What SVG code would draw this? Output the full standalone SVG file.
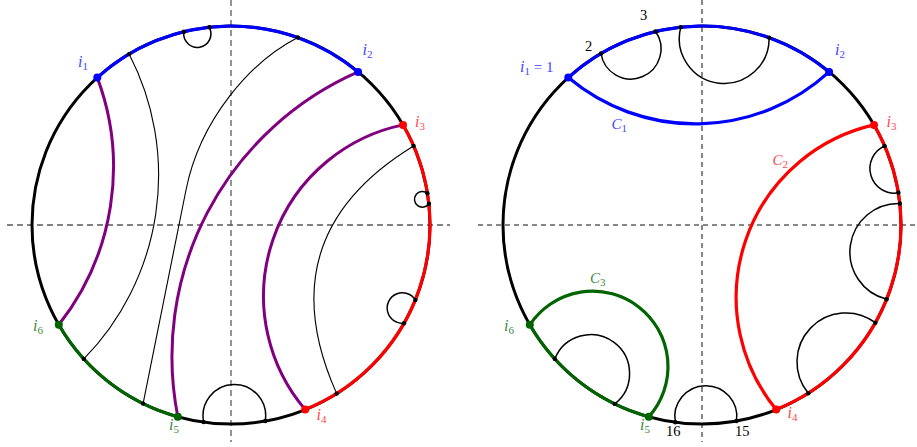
<svg xmlns="http://www.w3.org/2000/svg" width="917" height="447" viewBox="0 0 917 447">
<style>
.axL{stroke:#5a5a5a;stroke-width:1.3;stroke-dasharray:6,4;fill:none}
.axR{stroke:#111;stroke-width:1;stroke-dasharray:5,4;fill:none}
.rim{stroke:#000;stroke-width:3;fill:none}
.blue{stroke:#0000ff;stroke-width:3.2;fill:none}
.red{stroke:#ff0000;stroke-width:3.2;fill:none}
.green{stroke:#006400;stroke-width:3.2;fill:none}
.pur{stroke:#800080;stroke-width:3;fill:none}
.thin{stroke:#000;stroke-width:1.1;fill:none}
.loop{stroke:#000;stroke-width:1.5;fill:none}
.dot{fill:#000}
.lab{font-family:"Liberation Serif",serif;font-style:italic;font-size:16px}
.cal{font-family:"Liberation Serif",serif;font-style:italic;font-size:15px}
.sub{font-style:normal;font-size:11px}
.eq{font-style:normal;font-size:15px}
.num{font-family:"Liberation Serif",serif;font-size:14.5px;fill:#000}
.lb{fill:#4646ff}.lr{fill:#ff4a4a}.lg{fill:#3f8a3f}
</style>

<g id="axes">
<line class="axL" x1="7" y1="225" x2="450" y2="225"/>
<line class="axL" x1="231" y1="0" x2="231" y2="442"/>
<line class="axR" x1="478" y1="225" x2="917" y2="225"/>
<line class="axR" x1="702" y1="0" x2="702" y2="442"/>
</g>

<g id="left-disk">
<circle class="rim" cx="231" cy="225" r="199"/>
<path class="blue" d="M97.3,77.6 A199,199 0 0 1 358.1,71.9"/>
<path class="red" d="M403,124.9 A199,199 0 0 1 305.2,409.6"/>
<path class="green" d="M177.8,416.8 A199,199 0 0 1 58.8,324.8"/>
</g>

<g id="left-connectors">
<path class="thin" d="M129.1,54.1 A263,263 0 0 1 83.8,358.9"/>
<path class="thin" d="M297.8,37.5 C250,62 200,120 186,190 L143.1,403.6"/>
<path class="thin" d="M413.6,146 C315.4,206 289.7,288.6 336.7,393.6"/>
<path class="loop" d="M183.9,31.7 A13.6,13.6 0 1 0 209.2,27.2"/>
<path class="loop" d="M427.4,193.2 A7.9,7.9 0 1 0 428.9,203.8"/>
<path class="loop" d="M415.4,299.9 A15.3,15.3 0 1 0 404,323.3"/>
<path class="loop" d="M203.7,422.1 A31.3,31.3 0 1 1 265.2,421"/>
<path class="pur" d="M97.3,77.6 A255,255 0 0 1 58.8,324.8"/>
<path class="pur" d="M358.1,71.9 A311,311 0 0 0 177.8,416.8"/>
<path class="pur" d="M403,124.9 A175,175 0 0 0 305.2,409.6"/>
</g>

<g id="left-points">
<circle class="dot" cx="129.1" cy="54.1" r="2.2"/>
<circle class="dot" cx="183.9" cy="31.7" r="2.2"/>
<circle class="dot" cx="209.2" cy="27.2" r="2.2"/>
<circle class="dot" cx="297.8" cy="37.5" r="2.2"/>
<circle class="dot" cx="413.6" cy="146" r="2.2"/>
<circle class="dot" cx="427.4" cy="193.2" r="2.2"/>
<circle class="dot" cx="428.9" cy="203.8" r="2.2"/>
<circle class="dot" cx="415.4" cy="299.9" r="2.2"/>
<circle class="dot" cx="404" cy="323.3" r="2.2"/>
<circle class="dot" cx="336.7" cy="393.6" r="2.2"/>
<circle class="dot" cx="203.7" cy="422.1" r="2.2"/>
<circle class="dot" cx="265.2" cy="421" r="2.2"/>
<circle class="dot" cx="143.1" cy="403.6" r="2.2"/>
<circle class="dot" cx="83.8" cy="358.9" r="2.2"/>
<circle cx="97.3" cy="77.6" r="4" fill="#0000ff"/>
<circle cx="358.1" cy="71.9" r="4" fill="#0000ff"/>
<circle cx="403" cy="124.9" r="4" fill="#ff0000"/>
<circle cx="305.2" cy="409.6" r="4" fill="#ff0000"/>
<circle cx="177.8" cy="416.8" r="4" fill="#006400"/>
<circle cx="58.8" cy="324.8" r="4" fill="#006400"/>
</g>

<g id="left-labels">
<text class="lab lb" x="78" y="67">i<tspan class="sub" dy="3">1</tspan></text>
<text class="lab lb" x="362.5" y="55">i<tspan class="sub" dy="3">2</tspan></text>
<text class="lab lr" x="415" y="126.5">i<tspan class="sub" dy="3">3</tspan></text>
<text class="lab lr" x="316.5" y="419.5">i<tspan class="sub" dy="3">4</tspan></text>
<text class="lab lg" x="169" y="430">i<tspan class="sub" dy="3">5</tspan></text>
<text class="lab lg" x="33" y="331">i<tspan class="sub" dy="3">6</tspan></text>
</g>

<g id="right-disk">
<circle class="rim" cx="702" cy="225" r="199"/>
<path class="blue" d="M568.3,77.6 A199,199 0 0 1 829.1,71.9"/>
<path class="red" d="M874,124.9 A199,199 0 0 1 776.2,409.6"/>
<path class="green" d="M648.8,416.8 A199,199 0 0 1 529.8,324.8"/>
</g>

<g id="right-connectors">
<path class="loop" d="M601,53.5 A30.2,30.2 0 1 0 655.6,31.5"/>
<path class="loop" d="M680.8,27.1 A44.9,44.9 0 1 0 769.1,37.6"/>
<path class="loop" d="M884.6,146 A24.6,24.6 0 0 0 898.4,192.8"/>
<path class="loop" d="M899.8,203.5 A48.6,48.6 0 0 0 886.6,299.2"/>
<path class="loop" d="M875.4,322.7 A49,49 0 0 0 808.3,393.2"/>
<path class="loop" d="M675.3,422.2 A31,31 0 1 1 736.5,421"/>
<path class="loop" d="M554.8,358.9 A38.8,38.8 0 1 1 614.8,403.9"/>
<path class="blue" d="M568.3,77.6 A197.8,197.8 0 0 0 829.1,71.9"/>
<path class="red" d="M874,124.9 A177,177 0 0 0 776.2,409.6"/>
<path class="green" d="M529.8,324.8 A75.4,75.4 0 1 1 648.8,416.8"/>
</g>

<g id="right-points">
<circle class="dot" cx="601" cy="53.5" r="2.2"/>
<circle class="dot" cx="655.6" cy="31.5" r="2.2"/>
<circle class="dot" cx="680.8" cy="27.1" r="2.2"/>
<circle class="dot" cx="769.1" cy="37.6" r="2.2"/>
<circle class="dot" cx="884.6" cy="146" r="2.2"/>
<circle class="dot" cx="898.4" cy="192.8" r="2.2"/>
<circle class="dot" cx="899.8" cy="203.5" r="2.2"/>
<circle class="dot" cx="886.6" cy="299.2" r="2.2"/>
<circle class="dot" cx="875.4" cy="322.7" r="2.2"/>
<circle class="dot" cx="808.3" cy="393.2" r="2.2"/>
<circle class="dot" cx="736.5" cy="421" r="2.2"/>
<circle class="dot" cx="675.3" cy="422.2" r="2.2"/>
<circle class="dot" cx="614.8" cy="403.9" r="2.2"/>
<circle class="dot" cx="554.8" cy="358.9" r="2.2"/>
<circle cx="568.3" cy="77.6" r="4" fill="#0000ff"/>
<circle cx="829.1" cy="71.9" r="4" fill="#0000ff"/>
<circle cx="874" cy="124.9" r="4" fill="#ff0000"/>
<circle cx="776.2" cy="409.6" r="4" fill="#ff0000"/>
<circle cx="648.8" cy="416.8" r="4" fill="#006400"/>
<circle cx="529.8" cy="324.8" r="4" fill="#006400"/>
</g>

<g id="right-labels">
<text class="lab lb" x="520" y="72">i<tspan class="sub" dy="3">1</tspan><tspan class="eq" dy="-3"> = 1</tspan></text>
<text class="num" x="585" y="51">2</text>
<text class="num" x="640" y="20">3</text>
<text class="lab lb" x="835" y="55">i<tspan class="sub" dy="3">2</tspan></text>
<text class="lab lr" x="886.5" y="126.5">i<tspan class="sub" dy="3">3</tspan></text>
<text class="lab lr" x="787.5" y="418">i<tspan class="sub" dy="3">4</tspan></text>
<text class="lab lg" x="640" y="430">i<tspan class="sub" dy="3">5</tspan></text>
<text class="lab lg" x="504" y="331">i<tspan class="sub" dy="3">6</tspan></text>
<text class="num" x="666" y="436">16</text>
<text class="num" x="735" y="436">15</text>
<text class="cal lb" x="611.5" y="129">C<tspan class="sub" dy="3">1</tspan></text>
<text class="cal lr" x="772.5" y="165">C<tspan class="sub" dy="3">2</tspan></text>
<text class="cal lg" x="590" y="283">C<tspan class="sub" dy="3">3</tspan></text>
</g>
</svg>
